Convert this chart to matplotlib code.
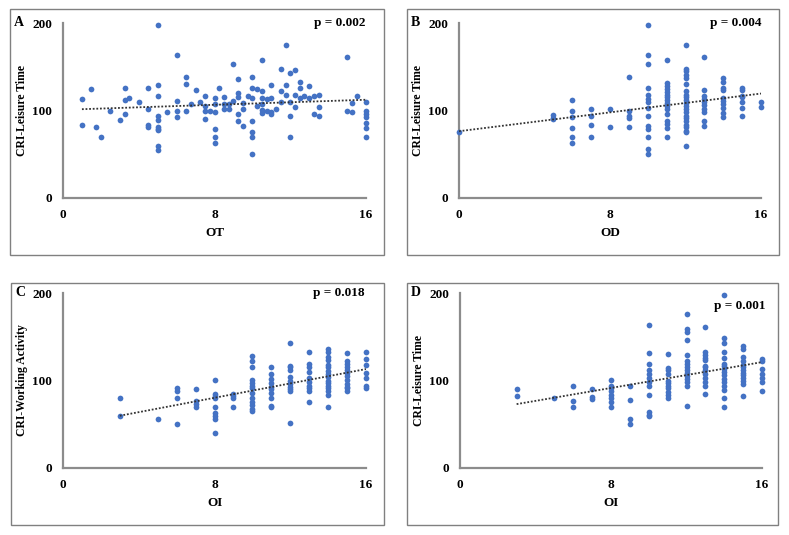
import numpy as np
import matplotlib
matplotlib.use('Agg')
import matplotlib.pyplot as plt
from matplotlib.patches import Rectangle

plt.rcParams['font.family'] = ['Liberation Serif', 'DejaVu Serif']
plt.rcParams['font.weight'] = 'bold'

# panel A: OT vs CRI-Leisure Time
ot_x = [1.0, 1.0, 1.5, 1.75, 2.0, 2.5, 3.0, 3.25, 3.25, 3.3, 3.5, 4.0, 4.5, 4.5, 4.5, 4.5,
        5.0, 5.0, 5.0, 5.0, 5.0, 5.0, 5.0, 5.0, 5.0, 5.0, 5.5, 6.0, 6.0, 6.0, 6.0,
        6.5, 6.5, 6.5, 6.75, 7.0, 7.25, 7.5, 7.5, 7.5, 7.5, 7.75,
        8.0, 8.0, 8.0, 8.0, 8.0, 8.0, 8.25, 8.5, 8.5, 8.5, 8.75, 8.75, 9.0, 9.0,
        9.25, 9.25, 9.25, 9.25, 9.25, 9.5, 9.5, 9.5, 9.75,
        10.0, 10.0, 10.0, 10.0, 10.0, 10.0, 10.0, 10.25, 10.25,
        10.5, 10.5, 10.5, 10.5, 10.5, 10.5, 10.75, 10.75, 11.0, 11.0, 11.0, 11.0, 11.25,
        11.5, 11.5, 11.5, 11.75, 11.75, 11.75, 12.0, 12.0, 12.0, 12.0,
        12.25, 12.25, 12.25, 12.5, 12.5, 12.5, 12.75, 13.0, 13.0, 13.25, 13.25,
        13.5, 13.5, 13.5, 15.0, 15.0, 15.25, 15.25, 15.5,
        16.0, 16.0, 16.0, 16.0, 16.0, 16.0, 16.0]
ot_y = [113, 84, 125, 81, 70, 99, 89, 126, 112, 96, 114, 110, 126, 102, 84, 81,
        198, 129, 117, 94, 89, 81, 79, 78, 60, 55, 98, 163, 111, 99, 93,
        138, 130, 100, 108, 123, 110, 117, 105, 99, 90, 99,
        114, 107, 98, 79, 70, 63, 126, 115, 108, 102, 102, 108, 153, 111,
        136, 120, 115, 96, 88, 109, 102, 82, 117,
        138, 114, 126, 88, 76, 70, 50, 125, 105,
        158, 122, 114, 108, 101, 97, 113, 99, 129, 114, 98, 96, 102,
        147, 122, 110, 175, 129, 118, 143, 110, 94, 70,
        146, 118, 104, 133, 126, 114, 117, 128, 114, 117, 96,
        118, 104, 94, 161, 99, 98, 109, 117,
        110, 99, 96, 93, 86, 80, 70]

# panel B: OD vs CRI-Leisure Time
od_x = [0, 5, 5, 5, 6, 6, 6, 6, 6, 6, 7, 7, 7, 7, 8, 8, 9, 9, 9, 9, 9] \
    + [10] * 14 + [11] * 16 + [12] * 22 + [13] * 10 + [14] * 10 + [15] * 7 + [16] * 2
od_y = [76, 95, 92, 90, 112, 100, 93, 80, 70, 63, 102, 94, 84, 70, 102, 81,
        138, 99, 94, 91, 81,
        198, 163, 153, 126, 118, 113, 110, 103, 94, 82, 79, 70, 56, 50,
        158, 131, 128, 125, 121, 118, 115, 112, 109, 105, 102, 96, 88, 85, 80, 70,
        175, 148, 145, 141, 137, 130, 122, 118, 115, 112, 109, 105, 102, 98, 94, 91,
        88, 84, 81, 77, 75, 59,
        161, 123, 117, 113, 110, 106, 102, 98, 88, 82,
        137, 133, 126, 123, 114, 111, 107, 103, 97, 93,
        126, 124, 117, 115, 110, 103, 94,
        110, 104]

# panel C: OI vs CRI-Working Activity
oi_c_x = [3, 3, 5, 6, 6, 6, 6, 7, 7, 7, 7] + [8] * 9 + [9] * 4 + [10] * 13 + [11] * 10 \
    + [12] * 11 + [13] * 10 + [14] * 16 + [15] * 12 + [16] * 7
oi_c_y = [80, 59, 56, 91, 88, 80, 50, 90, 77, 73, 70,
          101, 85, 82, 80, 70, 63, 59, 56, 40,
          85, 82, 80, 70,
          128, 122, 115, 101, 97, 94, 91, 86, 80, 75, 72, 68, 65,
          115, 108, 102, 97, 93, 90, 86, 80, 71, 70,
          143, 117, 115, 112, 104, 100, 96, 93, 90, 88, 51,
          133, 119, 116, 110, 103, 98, 94, 91, 88, 75,
          136, 133, 127, 123, 118, 115, 111, 107, 104, 100, 97, 94, 91, 88, 83, 70,
          131, 122, 119, 116, 112, 109, 105, 101, 96, 93, 91, 88,
          133, 125, 118, 109, 103, 94, 92]

# panel D: OI vs CRI-Leisure Time
oi_d_x = [3, 3, 5, 6, 6, 6, 7, 7, 7] + [8] * 8 + [9] * 4 + [10] * 12 + [11] * 11 \
    + [12] * 15 + [13] * 13 + [14] * 16 + [15] * 13 + [16] * 7
oi_d_y = [90, 82, 80, 94, 77, 70, 90, 81, 79,
          101, 94, 92, 88, 84, 80, 76, 70,
          94, 78, 56, 50,
          163, 131, 119, 112, 108, 103, 98, 94, 83, 64, 61, 59,
          130, 114, 112, 108, 100, 97, 94, 91, 87, 84, 80,
          176, 159, 155, 146, 129, 122, 119, 115, 112, 109, 105, 102, 98, 94, 71,
          161, 133, 129, 126, 123, 117, 115, 112, 107, 103, 98, 94, 85,
          198, 149, 143, 133, 126, 119, 117, 113, 110, 106, 102, 98, 94, 89, 80, 70,
          139, 136, 127, 122, 118, 115, 112, 109, 106, 103, 99, 96, 82,
          125, 122, 113, 108, 103, 98, 88]

panels = [
    ('A', ot_x, ot_y, 'OT', 'CRI-Leisure Time', 'p = 0.002'),
    ('B', od_x, od_y, 'OD', 'CRI-Leisure Time', 'p = 0.004'),
    ('C', oi_c_x, oi_c_y, 'OI', 'CRI-Working Activity', 'p = 0.018'),
    ('D', oi_d_x, oi_d_y, 'OI', 'CRI-Leisure Time', 'p = 0.001'),
]

W, H = 789, 535
fig = plt.figure(figsize=(W / 100, H / 100), dpi=100)

# pixel boxes: (frame l, t, r, b), (axes l, t, r, b)
frames = [(10, 9, 384, 255), (407, 9, 779, 255), (11, 283, 384, 525), (407, 283, 778, 525)]
axboxes = [(63, 23, 366, 198), (459, 23, 761, 198), (63, 293, 366, 468), (460, 293, 762, 468)]
p_pos = [(365, 23), (762, 23), (365, 293), (765, 306)]

blue = '#4472C4'

for (letter, x, y, xl, yl, ptxt), fr, ab, pp in zip(panels, frames, axboxes, p_pos):
    fig.patches.append(Rectangle((fr[0] / W, 1 - fr[3] / H), (fr[2] - fr[0]) / W,
                                 (fr[3] - fr[1]) / H, transform=fig.transFigure,
                                 fill=False, edgecolor='#808080', linewidth=1.0))
    ax = fig.add_axes([ab[0] / W, 1 - ab[3] / H, (ab[2] - ab[0]) / W, (ab[3] - ab[1]) / H])
    x = np.array(x, dtype=float)
    y = np.array(y, dtype=float)
    ax.scatter(x, y, s=17, color=blue, linewidths=0, clip_on=False, zorder=3)
    k, b = np.polyfit(x, y, 1)
    xs = np.array([x.min(), x.max()])
    ax.plot(xs, k * xs + b, linestyle=(0, (1, 1)), color='#333333', linewidth=1.3, zorder=4)
    ax.set_xlim(0, 16)
    ax.set_ylim(0, 200)
    ax.set_xticks([0, 8, 16])
    ax.set_yticks([0, 100, 200])
    ax.tick_params(length=0, labelsize=9.5, pad=8)
    ax.tick_params(axis='x', pad=8)
    for s in ['top', 'right']:
        ax.spines[s].set_visible(False)
    for s in ['left', 'bottom']:
        ax.spines[s].set_color('#8c8c8c')
        ax.spines[s].set_linewidth(1.6)
    ax.set_xlabel(xl, fontsize=9.5, fontweight='bold', labelpad=4)
    ax.set_ylabel(yl, fontsize=8.5, fontweight='bold', labelpad=3)
    fig.text((fr[0] + 4) / W, 1 - ab[1] / H, letter, fontsize=10, fontweight='bold',
             ha='left', va='center')
    fig.text(pp[0] / W, 1 - pp[1] / H, ptxt, fontsize=9.5, fontweight='bold',
             ha='right', va='center')

fig.savefig('out.png', dpi=100)
